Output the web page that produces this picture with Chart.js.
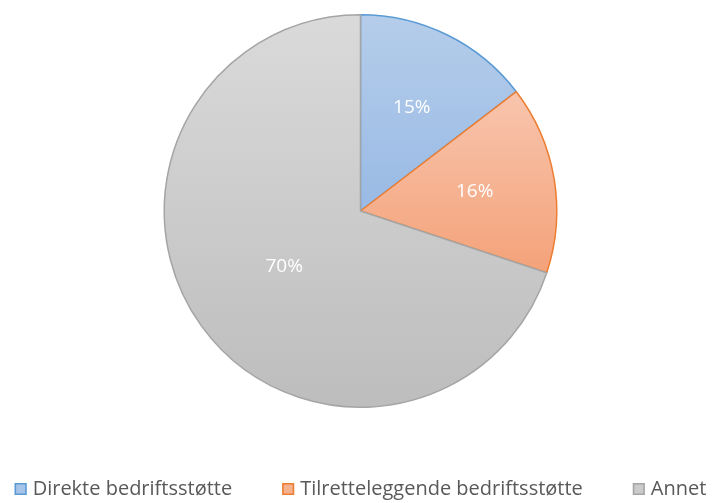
<!DOCTYPE html>
<html>
<head>
<meta charset="utf-8">
<script src="https://cdn.jsdelivr.net/npm/chart.js@4/dist/chart.umd.min.js"></script>
<style>
  html, body { margin: 0; padding: 0; background: #fff; }
  #wrap { width: 721px; height: 503px; }
</style>
</head>
<body>
<div id="wrap"><canvas id="myChart"></canvas></div>
<script>
const labels = ['Direkte bedriftsstøtte', 'Tilretteleggende bedriftsstøtte', 'Annet'];
const values = [14.6, 15.5, 69.9];

const topColors = ['rgb(181,205,234)', 'rgb(248,197,174)', 'rgb(218,218,218)'];
const bottomColors = ['rgb(153,186,229)', 'rgb(244,162,121)', 'rgb(189,189,189)'];
const legendFill = ['rgb(166,196,231)', 'rgb(246,178,143)', 'rgb(203,203,203)'];
const borderColors = ['#5b9bd5', '#ed7d31', '#a5a5a5'];

const total = values.reduce((a, b) => a + b, 0);

// vertical gradient spanning each slice's own height
function sliceFill(context) {
  const chart = context.chart;
  const area = chart.chartArea;
  const i = context.dataIndex;
  if (!area) return topColors[i];
  const cx = (area.left + area.right) / 2;
  const cy = (area.top + area.bottom) / 2;
  const r = Math.min(area.width, area.height) / 2;
  let start = 0;
  for (let k = 0; k < i; k++) start += values[k] / total;
  const end = start + values[i] / total;
  let minY = cy, maxY = cy;
  for (let s = 0; s <= 60; s++) {
    const a = (start + (end - start) * s / 60) * Math.PI * 2 - Math.PI / 2;
    const y = cy + Math.sin(a) * r;
    minY = Math.min(minY, y);
    maxY = Math.max(maxY, y);
  }
  const g = chart.ctx.createLinearGradient(0, minY, 0, maxY);
  g.addColorStop(0, topColors[i]);
  g.addColorStop(1, bottomColors[i]);
  return g;
}

const pctLabels = {
  id: 'pctLabels',
  afterDatasetsDraw(chart) {
    const ctx = chart.ctx;
    const meta = chart.getDatasetMeta(0);
    ctx.save();
    ctx.fillStyle = '#ffffff';
    ctx.font = '19px "Open Sans", sans-serif';
    ctx.textAlign = 'center';
    ctx.textBaseline = 'middle';
    meta.data.forEach((arc, i) => {
      const p = arc.getProps(['x', 'y', 'startAngle', 'endAngle', 'outerRadius'], true);
      const mid = (p.startAngle + p.endAngle) / 2;
      const share = values[i] / total;
      const rr = p.outerRadius * (share > 0.5 ? 0.48 : 0.59);
      ctx.fillText(Math.round(share * 100) + '%', p.x + Math.cos(mid) * rr, p.y + Math.sin(mid) * rr);
    });
    ctx.restore();
  }
};

// legend row under the pie, drawn like the office-style legend
const bottomLegend = {
  id: 'bottomLegend',
  afterDraw(chart) {
    const ctx = chart.ctx;
    const box = 12, gapText = 6, gapItem = 50;
    const y = chart.height - 14;
    ctx.save();
    ctx.font = '20px "Open Sans", sans-serif';
    ctx.textBaseline = 'middle';
    ctx.textAlign = 'left';
    const widths = labels.map(t => box + gapText + ctx.measureText(t).width);
    const full = widths.reduce((a, b) => a + b, 0) + gapItem * (labels.length - 1);
    let x = (chart.width - full) / 2;
    labels.forEach((t, i) => {
      ctx.fillStyle = legendFill[i];
      ctx.fillRect(x, y - box / 2, box, box);
      ctx.strokeStyle = borderColors[i];
      ctx.lineWidth = 1.5;
      ctx.strokeRect(x + 0.75, y - box / 2 + 0.75, box - 1.5, box - 1.5);
      ctx.fillStyle = '#595959';
      ctx.fillText(t, x + box + gapText, y);
      x += widths[i] + gapItem;
    });
    ctx.restore();
  }
};

new Chart(document.getElementById('myChart'), {
  type: 'pie',
  data: {
    labels: labels,
    datasets: [{
      data: values,
      backgroundColor: sliceFill,
      borderColor: borderColors,
      borderWidth: 1.5
    }]
  },
  options: {
    responsive: true,
    maintainAspectRatio: false,
    animation: false,
    layout: { padding: { top: 14, bottom: 95, left: 0, right: 0 } },
    plugins: {
      tooltip: { enabled: false },
      legend: { display: false }
    }
  },
  plugins: [pctLabels, bottomLegend]
});
</script>
</body>
</html>
